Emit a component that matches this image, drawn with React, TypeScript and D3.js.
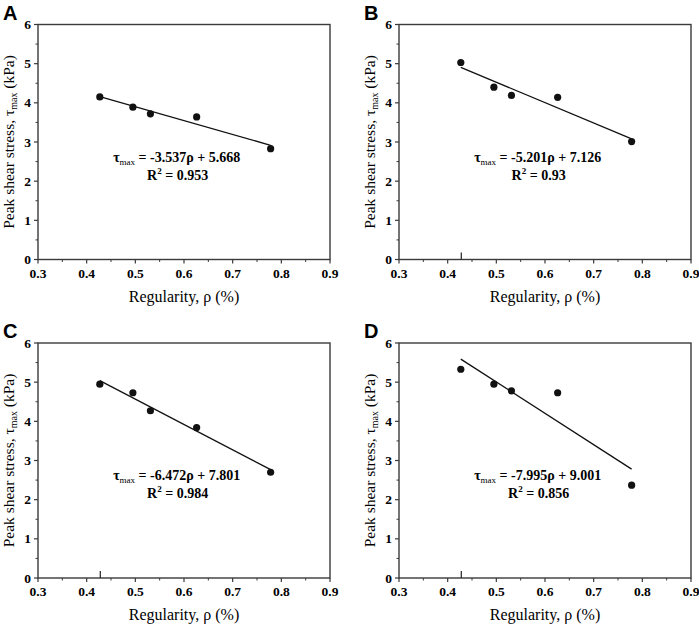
import React from 'react';
import * as d3 from 'd3';

// regularity values (x) shared by all panels
const regularity = [0.427, 0.495, 0.531, 0.626, 0.778];

const panelLabels = ['A', 'B', 'C', 'D'];
const stressA = [4.15, 3.89, 3.72, 3.64, 2.83];
const stressB = [5.03, 4.4, 4.19, 4.14, 3.01];
const stressC = [4.95, 4.73, 4.27, 3.84, 2.7];
const stressD = [5.33, 4.95, 4.78, 4.73, 2.37];
const slopes = [-3.537, -5.201, -6.472, -7.995];
const intercepts = [5.668, 7.126, 7.801, 9.001];
const slopeText = ['-3.537', '-5.201', '-6.472', '-7.995'];
const interceptText = ['5.668', '7.126', '7.801', '9.001'];
const r2Text = ['0.953', '0.93', '0.984', '0.856'];
const hasStrayTick = [false, true, true, true];

const xTicks = [0.3, 0.4, 0.5, 0.6, 0.7, 0.8, 0.9];
const yTicks = [0, 1, 2, 3, 4, 5, 6];

const W = 292;
const H = 235;
const origins = [
    { x: 38, y: 24.5 },
    { x: 399, y: 24.5 },
    { x: 38, y: 343 },
    { x: 399, y: 343 },
];

const serif = '"Liberation Serif", "Times New Roman", serif';
const frame = '#3a3a3a';

const Panel: React.FC<{ i: number; ys: number[] }> = ({ i, ys }) => {
    const x = d3.scaleLinear().domain([0.3, 0.9]).range([0, W]);
    const y = d3.scaleLinear().domain([0, 6]).range([H, 0]);
    const o = origins[i];
    const fit = d3.line<number>()
        .x(d => x(d))
        .y(d => y(slopes[i] * d + intercepts[i]));
    const xMinor = d3.range(0.35, 0.9, 0.1);
    const yMinor = d3.range(0.5, 6, 1);

    return (
        <g transform={`translate(${o.x},${o.y})`}>
            <text x={-35} y={-5} fontFamily='"Liberation Sans", Arial, sans-serif'
                fontWeight="bold" fontSize={20}>{panelLabels[i]}</text>
            <rect x={0} y={0} width={W} height={H} fill="none" stroke={frame} strokeWidth={1.4} />
            {xTicks.map(t => (
                <g key={'x' + t}>
                    <line x1={x(t)} x2={x(t)} y1={H} y2={H + 4} stroke={frame} strokeWidth={1.2} />
                    <text x={x(t)} y={H + 18} textAnchor="middle" fontFamily={serif}
                        fontWeight="bold" fontSize={13.5}>{t.toFixed(1)}</text>
                </g>
            ))}
            {xMinor.map(t => (
                <line key={'xm' + t} x1={x(t)} x2={x(t)} y1={H} y2={H + 2.5} stroke={frame} strokeWidth={1} />
            ))}
            {yTicks.map(t => (
                <g key={'y' + t}>
                    <line x1={-4} x2={0} y1={y(t)} y2={y(t)} stroke={frame} strokeWidth={1.2} />
                    <text x={-7} y={y(t) + 4.5} textAnchor="end" fontFamily={serif}
                        fontWeight="bold" fontSize={13.5}>{t}</text>
                </g>
            ))}
            {yMinor.map(t => (
                <line key={'ym' + t} x1={-2.5} x2={0} y1={y(t)} y2={y(t)} stroke={frame} strokeWidth={1} />
            ))}
            {hasStrayTick[i] && (
                <line x1={x(0.428)} x2={x(0.428)} y1={H} y2={H - 7} stroke="#222" strokeWidth={1.2} />
            )}
            <path d={fit([regularity[0], regularity[regularity.length - 1]]) ?? ''}
                fill="none" stroke="#111" strokeWidth={1.3} />
            {ys.map((v, k) => (
                <circle key={k} cx={x(regularity[k])} cy={y(v)} r={3.6} fill="#111" />
            ))}
            <text x={x(0.585)} y={y(2.5)} textAnchor="middle" fontFamily={serif}
                fontWeight="bold" fontSize={14}>
                <tspan>τ</tspan>
                <tspan fontSize={9} fontWeight="normal" dy={3}>max</tspan>
                <tspan dy={-3}>{` = ${slopeText[i]}ρ + ${interceptText[i]}`}</tspan>
            </text>
            <text x={x(0.587)} y={y(2.03)} textAnchor="middle" fontFamily={serif}
                fontWeight="bold" fontSize={14}>
                <tspan>R</tspan>
                <tspan fontSize={9} dy={-6}>2</tspan>
                <tspan dy={6}>{` = ${r2Text[i]}`}</tspan>
            </text>
            <text x={W / 2} y={H + 42} textAnchor="middle" fontFamily={serif} fontSize={16}>
                Regularity, ρ (%)
            </text>
            <text transform={`translate(-24.5,${H / 2}) rotate(-90)`} textAnchor="middle"
                fontFamily={serif} fontSize={15.5}>
                <tspan>Peak shear stress, τ</tspan>
                <tspan fontSize={10} dy={3}>max</tspan>
                <tspan dy={-3}> (kPa)</tspan>
            </text>
        </g>
    );
};

const App: React.FC = () => {
    const series = [stressA, stressB, stressC, stressD];
    return (
        <svg width={699} height={624} style={{ position: 'absolute', left: 0, top: 0, background: '#fff' }}>
            {series.map((ys, i) => <Panel key={i} i={i} ys={ys} />)}
        </svg>
    );
};

export default App;
